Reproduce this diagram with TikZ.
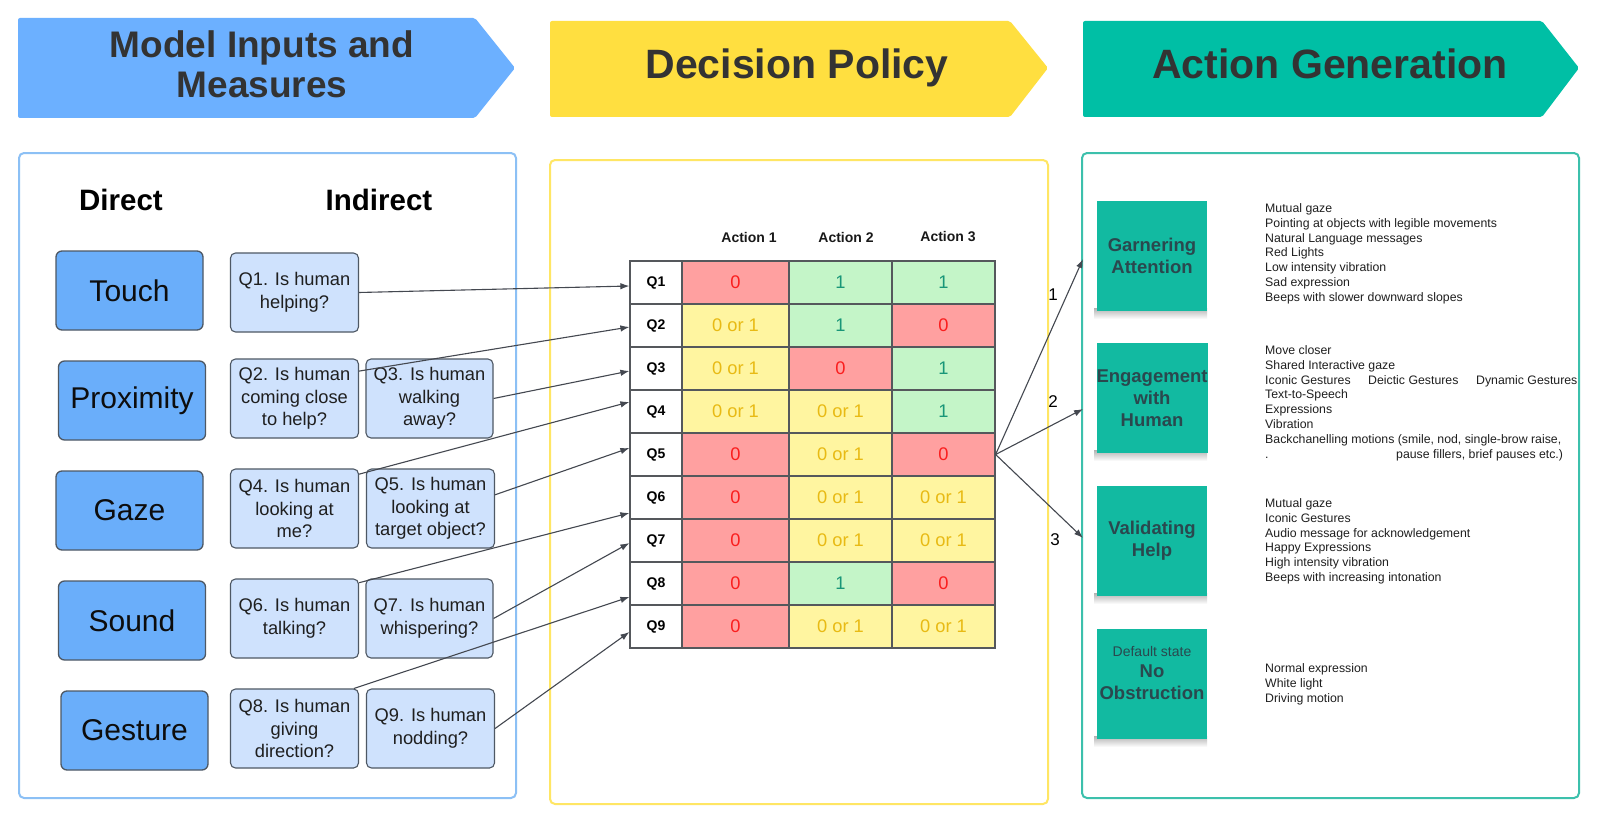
\documentclass[tikz,border=0pt]{standalone}
\usepackage{fontspec}
\setmainfont{Liberation Sans}
\usetikzlibrary{arrows.meta,calc}
\newcommand{\pxfont}[2]{\fontsize{#1pt}{#2pt}\selectfont}
\newcommand{\cellvalr}{0}
\newcommand{\cellvalg}{1}
\newcommand{\cellvaly}{0 or 1}

\definecolor{hdrblue}{RGB}{108,176,255}
\definecolor{hdryellow}{RGB}{255,223,64}
\definecolor{hdrteal}{RGB}{0,191,165}
\definecolor{panelblue}{RGB}{140,192,245}
\definecolor{panelyellow}{RGB}{255,230,100}
\definecolor{panelteal}{RGB}{60,192,172}
\definecolor{dirfill}{RGB}{106,174,250}
\definecolor{qfill}{RGB}{207,226,253}
\definecolor{boxline}{RGB}{78,88,100}
\definecolor{tablegray}{RGB}{85,88,92}
\definecolor{cellfillr}{RGB}{255,160,160}
\definecolor{cellfillg}{RGB}{196,245,200}
\definecolor{cellfilly}{RGB}{255,245,160}
\definecolor{celltextr}{RGB}{250,30,30}
\definecolor{celltextg}{RGB}{25,150,120}
\definecolor{celltexty}{RGB}{232,186,20}
\definecolor{notefill}{RGB}{18,186,161}
\definecolor{notetext}{RGB}{42,72,78}
\definecolor{titletext}{RGB}{51,51,51}
\definecolor{arrowgray}{RGB}{68,72,80}

\begin{document}
\begin{tikzpicture}[x=1pt,y=-1pt,
  panel/.style={draw, line width=2pt, rounded corners=5pt, inner sep=0pt},
  hdrtext/.style={font=\bfseries\pxfont{41}{45}, text=titletext, inner sep=0pt, align=center},
  colhead/.style={font=\bfseries\pxfont{29.5}{34}, text=black, inner sep=0pt, anchor=base},
  dirbox/.style={draw=boxline, fill=dirfill, line width=1.3pt, rounded corners=6pt,
    minimum width=147pt, minimum height=79pt, inner sep=0pt, font=\pxfont{30}{36}, text=black!95},
  qbox/.style={draw=boxline, fill=qfill, line width=1.1pt, rounded corners=5pt,
    minimum width=128pt, minimum height=79pt, inner sep=0pt, align=center,
    font=\pxfont{18.3}{22.5}, text=black!88},
  acthead/.style={font=\bfseries\pxfont{14}{17}, text=black!90, inner sep=0pt},
  rowhead/.style={draw=tablegray, line width=1.2pt, fill=white, minimum width=52pt,
    minimum height=43pt, inner sep=0pt, font=\bfseries\pxfont{14}{17}},
  cell/.style={draw=tablegray, line width=1.2pt, fill=cellfill#1, text=celltext#1,
    minimum height=43pt, inner sep=0pt, font=\pxfont{18.3}{22}},
  qarrow/.style={draw=arrowgray, line width=1.1pt, -{Latex[length=9pt,width=6.5pt]}},
  note/.style={fill=notefill, minimum width=110pt, minimum height=110pt, inner sep=0pt,
    align=center, font=\bfseries\pxfont{18.5}{22}, text=notetext},
  noteshadow/.style={top color=black!30, bottom color=white, draw=none},
  listtxt/.style={anchor=base west, inner sep=0pt, font=\pxfont{12.3}{14.8}, text=black!88},
  numlabel/.style={font=\pxfont{17}{20}, text=black, inner sep=0pt}
]
\useasboundingbox (0,0) rectangle (1600,824);
\fill[white] (0,0) rectangle (1600,824);

% ---------- stage headers ----------
\fill[hdrblue, rounded corners=2pt] (18,18) -- (475,18) -- (515,68) -- (475,118) -- (18,118) -- cycle;
\fill[hdryellow, rounded corners=2pt] (550,21) -- (1010,21) -- (1048,68) -- (1010,117) -- (550,117) -- cycle;
\fill[hdrteal, rounded corners=2pt] (1083,21) -- (1542,21) -- (1579,68) -- (1542,117) -- (1083,117) -- cycle;
\node[hdrtext, font=\bfseries\pxfont{37}{40}] (hdrL) at (262,64) {Model Inputs and\\Measures};
\node[hdrtext, anchor=base] (hdrM) at (797,79) {Decision Policy};
\node[hdrtext, anchor=base] (hdrR) at (1330,79) {Action Generation};

% ---------- panels ----------
\node[panel, draw=panelblue, minimum width=497pt, minimum height=645pt] (panL) at (267.5,475.5) {};
\node[panel, draw=panelyellow, minimum width=498pt, minimum height=644pt] (panM) at (799,482) {};
\node[panel, draw=panelteal, minimum width=497pt, minimum height=645pt] (panR) at (1330.5,475.5) {};

% ---------- inputs ----------
\node[colhead] (direct) at (121,210) {Direct};
\node[colhead] (indirect) at (379,210) {Indirect};

\node[dirbox] (touch) at (129.5,290.5) {Touch};
\node[dirbox] (prox) at (132,400.5) {Proximity};
\node[dirbox] (gaze) at (129.5,510.5) {Gaze};
\node[dirbox] (sound) at (132,620.5) {Sound};
\node[dirbox] (gest) at (134.5,730.5) {Gesture};

\node[qbox] (qb1) at (294.5,292.5) {Q1. Is human\\helping?};
\node[qbox] (qb2) at (294.5,398.5) {Q2. Is human\\coming close\\to help?};
\node[qbox, minimum width=127pt] (qb3) at (429.5,398.5) {Q3. Is human\\walking\\away?};
\node[qbox] (qb4) at (294.5,508.5) {Q4. Is human\\looking at\\me?};
\node[qbox] (qb5) at (430.5,508.5) {Q5. Is human\\looking at\\target object?};
\node[qbox] (qb6) at (294.5,618.5) {Q6. Is human\\talking?};
\node[qbox, minimum width=127pt] (qb7) at (429.5,618.5) {Q7. Is human\\whispering?};
\node[qbox] (qb8) at (294.5,728.5) {Q8. Is human\\giving\\direction?};
\node[qbox] (qb9) at (430.5,728.5) {Q9. Is human\\nodding?};

% ---------- decision table ----------
\node[acthead] (ah1) at (749,237) {Action 1};
\node[acthead] (ah2) at (846,237) {Action 2};
\node[acthead] (ah3) at (948,237) {Action 3};

\foreach \i/\a/\b/\c in {1/r/g/g, 2/y/g/r, 3/y/r/g, 4/y/y/g, 5/r/y/r,
                         6/r/y/y, 7/r/y/y, 8/r/g/r, 9/r/y/y} {
  \node[rowhead] (rq\i) at (656,{282.5+43*(\i-1)}) {Q\i};
  \node[cell=\a, minimum width=107pt] (c\i1) at (735.5,{282.5+43*(\i-1)}) {\csname cellval\a\endcsname};
  \node[cell=\b, minimum width=103pt] (c\i2) at (840.5,{282.5+43*(\i-1)}) {\csname cellval\b\endcsname};
  \node[cell=\c, minimum width=103pt] (c\i3) at (943.5,{282.5+43*(\i-1)}) {\csname cellval\c\endcsname};
}

% ---------- question to table connectors ----------
\draw[qarrow] (qb1.east) -- ($(rq1.west)+(0,3.5)$);
\draw[qarrow] (qb2.23) -- ($(rq2.west)+(0,1.5)$);
\draw[qarrow] (qb3.east) -- ($(rq3.west)+(0,2.5)$);
\draw[qarrow] (qb4.28) -- ($(rq4.west)+(0,-9.5)$);
\draw[qarrow] (qb5.12) -- ($(rq5.west)+(0,-6.5)$);
\draw[qarrow] (qb6.29) -- ($(rq6.west)+(0,15.5)$);
\draw[qarrow] (qb7.east) -- ($(rq7.west)+(0,2.5)$);
\draw[qarrow] (qb8.34) -- ($(rq8.west)+(0,13.5)$);
\draw[qarrow] (qb9.east) -- ($(rq9.west)+(0,5.5)$);

% ---------- action notes (soft shadow strip under each note first) ----------
\foreach \cy in {256,398,541,684}
  \shade[noteshadow] (1094,{\cy+52}) rectangle (1207,{\cy+63});
\node[note] (n1) at (1152,256) {Garnering\\Attention};
\node[note] (n2) at (1152,398) {Engagement\\with\\Human};
\node[note] (n3) at (1152,541) {Validating\\Help};
\node[note] (n4) at (1152,684) {};
\node[align=center, inner sep=0pt, text=notetext, font=\bfseries\pxfont{18.5}{21.5}] (n4t) at (1152,673)
  {{\mdseries\pxfont{14}{17}Default state}\\No\\Obstruction};

\coordinate (e1) at (1083,259);
\coordinate (e2) at (1083,409);
\coordinate (e3) at (1083,538);
\draw[qarrow] (c53.east) -- (e1);
\draw[qarrow] (c53.east) -- (e2);
\draw[qarrow] (c53.east) -- (e3);
\node[numlabel] (lab1) at (1053,295) {1};
\node[numlabel] (lab2) at (1053,402) {2};
\node[numlabel] (lab3) at (1055,540) {3};

% ---------- behaviour lists ----------
\foreach \t [count=\k] in {Mutual gaze, Pointing at objects with legible movements,
    Natural Language messages, Red Lights, Low intensity vibration, Sad expression,
    Beeps with slower downward slopes}
  \node[listtxt] (la\k) at (1265,{212.4+14.8*(\k-1)}) {\t};

\foreach \t [count=\k] in {Move closer, Shared Interactive gaze,
    {\makebox[103pt][l]{Iconic Gestures}\makebox[108pt][l]{Deictic Gestures}Dynamic Gestures},
    Text-to-Speech, Expressions, Vibration,
    {Backchanelling motions (smile, nod, single-brow raise,},
    {\makebox[131pt][l]{.}pause fillers, brief pauses etc.)}}
  \node[listtxt] (lb\k) at (1265,{354.4+14.8*(\k-1)}) {\t};

\foreach \t [count=\k] in {Mutual gaze, Iconic Gestures, Audio message for acknowledgement,
    Happy Expressions, High intensity vibration, Beeps with increasing intonation}
  \node[listtxt] (lc\k) at (1265,{507.4+14.8*(\k-1)}) {\t};

\foreach \t [count=\k] in {Normal expression, White light, Driving motion}
  \node[listtxt] (ld\k) at (1265,{672.4+14.8*(\k-1)}) {\t};
\end{tikzpicture}
\end{document}
